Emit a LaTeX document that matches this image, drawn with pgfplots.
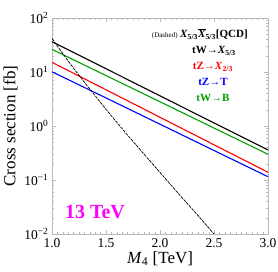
\documentclass[border=0pt]{standalone}
\usepackage{fontspec}
\setmainfont{Liberation Serif}
\usepackage{pgfplots}
\pgfplotsset{compat=1.18}
\definecolor{mygreen}{RGB}{0,160,0}
\definecolor{mymag}{RGB}{255,0,255}
\begin{document}
\begin{tikzpicture}
\begin{axis}[
  scale only axis,
  width=216pt, height=216pt,
  ymode=log,
  xmin=1, xmax=3, ymin=0.01, ymax=100,
  xtick={1,1.5,2,2.5,3},
  minor x tick num=9,
  ytick={0.01,0.1,1,10,100},
  yticklabels={10\textsuperscript{−2},10\textsuperscript{−1},10\textsuperscript{0},10\textsuperscript{1},10\textsuperscript{2}},
  xticklabel style={/pgf/number format/fixed,/pgf/number format/precision=1,/pgf/number format/fixed zerofill, yshift=-1pt},
  /pgf/number format/assume math mode=true,
  ticklabel style={font=\fontsize{13.5}{13.5}\selectfont},
  axis line style={gray!55},
  tick style={gray!55},
  major tick length=4pt, minor tick length=2pt,
  xlabel={\textit{M}\textsubscript{4} [TeV]},
  ylabel={Cross section [fb]},
  label style={font=\fontsize{17}{17}\selectfont},
  xlabel style={yshift=3pt},
  ylabel style={yshift=0pt},
  clip=true,
]
\addplot[black, line width=1.1pt] coordinates {(1.0,36.4) (1.5,11.5) (2.0,3.62) (2.5,1.14) (3.0,0.36)};
\addplot[mygreen, line width=1.1pt] coordinates {(1.0,26.3) (1.5,8.59) (2.0,2.81) (2.5,0.917) (3.0,0.30)};
\addplot[red, line width=1.1pt] coordinates {(1.0,15.1) (1.5,4.69) (2.0,1.45) (2.5,0.449) (3.0,0.139)};
\addplot[blue, line width=1.1pt] coordinates {(1.0,10.1) (1.5,3.31) (2.0,1.08) (2.5,0.352) (3.0,0.115)};
\addplot[black, line width=0.7pt, dash pattern=on 3pt off 1pt] coordinates {
 (1.0,41.7) (1.1,21.9) (1.2,11.7) (1.3,6.46) (1.4,3.63) (1.5,2.04) (1.6,1.17) (1.7,0.676)
 (1.8,0.398) (1.9,0.234) (2.0,0.138) (2.1,0.0813) (2.2,0.0479) (2.3,0.0288) (2.4,0.0170)
 (2.5,0.0100) (2.6,0.00603)};
\node[anchor=east, inner sep=0pt] at (rel axis cs:0.907,0.926) {{\fontsize{7}{7}\selectfont (Dashed)}\ \textbf{\fontsize{11}{11}\selectfont\textit{X}\textsubscript{5/3}$\overline{\mbox{\textbf{\textit{X}}}}$\textsubscript{5/3}[QCD]}};
\node[font=\bfseries\fontsize{11}{11}\selectfont, inner sep=0pt] at (rel axis cs:0.75,0.847) {tW→\textit{X}\textsubscript{5/3}};
\node[font=\bfseries\fontsize{11}{11}\selectfont, text=red, inner sep=0pt] at (rel axis cs:0.745,0.773) {tZ→\textit{X}\textsubscript{2/3}};
\node[font=\bfseries\fontsize{11}{11}\selectfont, text=blue, inner sep=0pt] at (rel axis cs:0.745,0.704) {tZ→T};
\node[font=\bfseries\fontsize{11}{11}\selectfont, text=mygreen, inner sep=0pt] at (rel axis cs:0.745,0.63) {tW→B};
\node[font=\bfseries\fontsize{20}{20}\selectfont, text=mymag, inner sep=0pt] at (rel axis cs:0.199,0.102) {13 TeV};
\end{axis}
\pgfresetboundingbox
\path ([shift={(-52pt,-38pt)}]current axis.south west) rectangle ([shift={(10pt,18pt)}]current axis.north east);
\end{tikzpicture}
\end{document}
